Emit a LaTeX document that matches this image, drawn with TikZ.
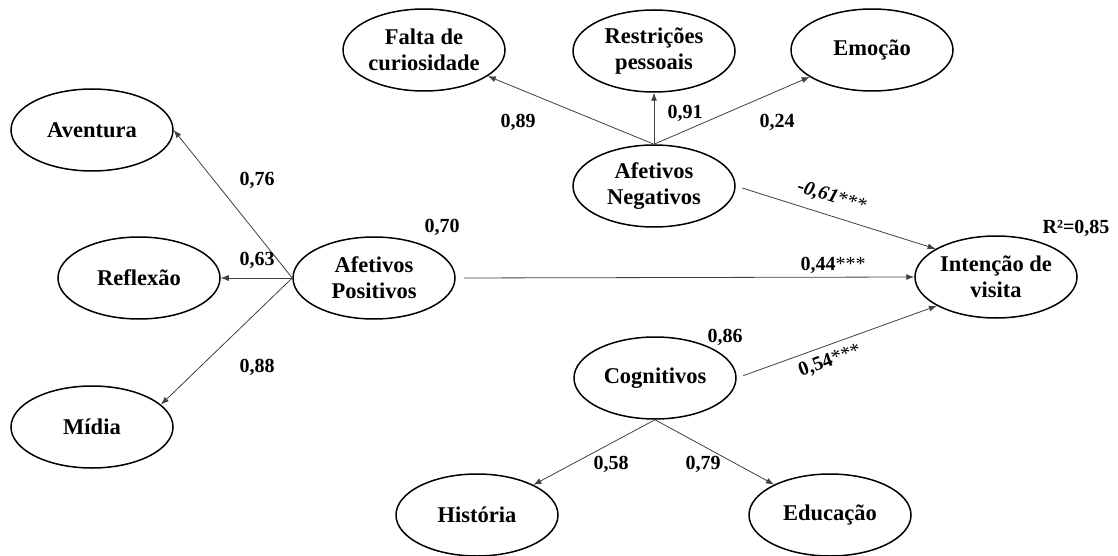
\documentclass[tikz,border=0pt]{standalone}
\usepackage{fontspec}
\setmainfont{Liberation Serif}
\usepackage{tikz}
\usetikzlibrary{arrows.meta,shapes.geometric}
\tikzset{
  latent/.style={draw,ellipse,line width=1.5pt,minimum width=162pt,minimum height=82pt,
    inner sep=0pt,align=center,font=\bfseries\fontsize{22.5}{26}\selectfont},
  coef/.style={inner sep=0pt,font=\bfseries\fontsize{20}{24}\selectfont},
  load/.style={-{Latex[length=8pt,width=6pt]},line width=0.8pt,draw=black!75},
  effect/.style={load,shorten <=7pt}
}
\newcommand{\sig}{\textmd{***}}

\begin{document}
\begin{tikzpicture}[x=1pt,y=1pt]
  \useasboundingbox (0,0) rectangle (1118,555);
  % latent variables
  \node[latent] (falta) at (424,505) {Falta de\\curiosidade};
  \node[latent] (restr) at (654,504) {Restrições\\pessoais};
  \node[latent] (emocao) at (872,505) {Emoção};
  \node[latent] (afneg) at (654,369) {Afetivos\\Negativos};
  \node[latent] (aventura) at (92,425) {Aventura};
  \node[latent] (reflexao) at (139,277) {Reflexão};
  \node[latent] (midia) at (92,128) {Mídia};
  \node[latent] (afpos) at (374,277) {Afetivos\\Positivos};
  \node[latent] (intencao) at (996,278) {Intenção de\\visita};
  \node[latent] (cog) at (655,177) {Cognitivos};
  \node[latent] (historia) at (477,40) {História};
  \node[latent] (educ) at (830,40) {Educação};
  % loadings
  \draw[load] (afneg.north)--(falta);
  \draw[load] (afneg.north)--(restr);
  \draw[load] (afneg.north)--(emocao);
  \draw[load] (afpos.west)--(aventura.east);
  \draw[load] (afpos.west)--(reflexao.east);
  \draw[load] (afpos.west)--(midia.18);
  \draw[load] (cog.south)--(historia);
  \draw[load] (cog.south)--(educ);
  % structural paths
  \draw[effect] (afneg.east)--(intencao.155);
  \draw[effect,shorten <=8pt] (afpos.east)--(intencao.west);
  \draw[effect] (cog.east)--(intencao.206);
  % coefficients
  \node[coef] (l89) at (518,433) {0,89};
  \node[coef] (l91) at (685,442) {0,91};
  \node[coef] (l24) at (777,433) {0,24};
  \node[coef] (l76) at (257,375) {0,76};
  \node[coef] (l63) at (257,295) {0,63};
  \node[coef] (l88) at (257,188) {0,88};
  \node[coef] (r70) at (442,328) {0,70};
  \node[coef] (r86) at (725,218) {0,86};
  \node[coef] (r85) at (1076,327) {R²=0,85};
  \node[coef] (l58) at (611,91) {0,58};
  \node[coef] (l79) at (703,91) {0,79};
  \node[coef,rotate=-17.5] (bneg) at (832,358) {\textit{-0,61}\sig};
  \node[coef] (bpos) at (833,290) {0,44\sig};
  \node[coef,rotate=20] (bcog) at (830,194) {0,54\sig};
\end{tikzpicture}
\end{document}
